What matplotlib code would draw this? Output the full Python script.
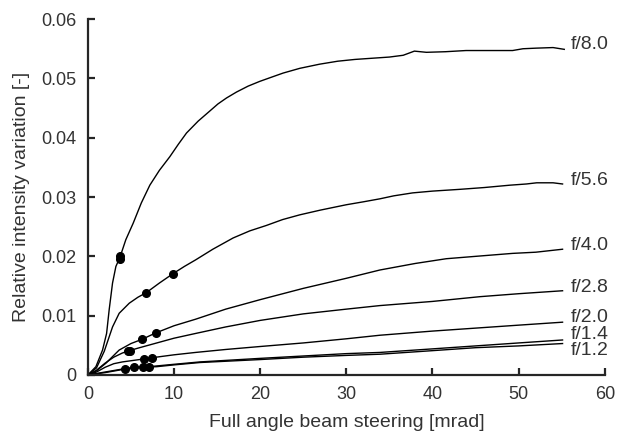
import matplotlib
matplotlib.use('Agg')
import matplotlib.pyplot as plt

plt.rcParams['font.family'] = ['Liberation Sans', 'DejaVu Sans']

# curve data (full angle beam steering [mrad], relative intensity variation)
f80_x = [0, 0.93, 1.7, 2.17, 2.47, 2.86, 3.25, 3.71, 4.4, 5.26, 6.2, 7.19, 8.3, 9.51, 10.5, 11.45,
         12.8, 14.15, 15.1, 16.09, 17.25, 18.6, 19.95, 21.3, 22.66, 24.6, 26.9, 29, 31, 33, 35, 36.6,
         37.9, 39.3, 41.5, 43.9, 46.5, 49.3, 50.5, 52, 54, 55.3]
f80_y = [0, 0.0014, 0.0042, 0.0070, 0.0110, 0.0155, 0.0183, 0.0198, 0.0228, 0.0256, 0.0290, 0.0320,
         0.0345, 0.0368, 0.0389, 0.0408, 0.0428, 0.0445, 0.0457, 0.0467, 0.0477, 0.0487, 0.0495, 0.0502,
         0.0509, 0.0517, 0.0524, 0.0529, 0.0532, 0.0534, 0.0536, 0.0539, 0.0546, 0.0544, 0.0545, 0.0547,
         0.0547, 0.0547, 0.0550, 0.0551, 0.0552, 0.0549]

f56_x = [0, 1, 1.9, 2.86, 3.63, 4.8, 5.8, 6.8, 8.3, 9.9, 11.2, 12.5, 14.5, 16.86, 18.8, 20.7, 22.6,
         24.6, 27, 30, 32, 33.9, 35.5, 37.7, 40, 43.2, 46, 49, 50.9, 52.1, 54, 55.1]
f56_y = [0, 0.0012, 0.0040, 0.0081, 0.0104, 0.0121, 0.0131, 0.0139, 0.0155, 0.0171, 0.0183, 0.0194,
         0.0212, 0.0231, 0.0243, 0.0252, 0.0262, 0.0270, 0.0278, 0.0287, 0.0292, 0.0297, 0.0302, 0.0307,
         0.0310, 0.0313, 0.0316, 0.0320, 0.0322, 0.0324, 0.0324, 0.0322]

f40_x = [0, 1, 2.1, 3, 3.63, 5, 6.26, 7.89, 10, 12.5, 16, 20, 25, 30, 33.9, 38, 41.6, 45, 49.3, 52, 55.1]
f40_y = [0, 0.0007, 0.0020, 0.0033, 0.0042, 0.0053, 0.0060, 0.0071, 0.0083, 0.0094, 0.0111, 0.0127,
         0.0146, 0.0163, 0.0177, 0.0188, 0.0196, 0.0200, 0.0205, 0.0207, 0.0212]

f28_x = [0, 1, 2, 3, 4, 4.8, 6, 8, 10, 12.5, 16, 20, 25, 30, 33.9, 40, 45.5, 50, 55.1]
f28_y = [0, 0.0008, 0.0020, 0.0030, 0.0037, 0.0041, 0.0046, 0.0054, 0.0062, 0.0070, 0.0081, 0.0092,
         0.0103, 0.0111, 0.0117, 0.0124, 0.0132, 0.0137, 0.0142]

f20_x = [0, 1, 2, 3, 4, 5, 6.5, 7.4, 10, 12.5, 16, 20, 25, 30, 33.9, 40, 45, 50, 55.1]
f20_y = [0, 0.0005, 0.0013, 0.0019, 0.0022, 0.0024, 0.0027, 0.0029, 0.0034, 0.0038, 0.0043, 0.0048,
         0.0054, 0.0061, 0.0067, 0.0074, 0.0079, 0.0084, 0.0089]

f14_x = [0, 2, 4, 5.37, 7.1, 10, 13, 20, 25, 30, 33.9, 40, 45, 50, 55.1]
f14_y = [0, 0.0005, 0.0010, 0.0013, 0.0014, 0.0018, 0.0022, 0.0028, 0.0032, 0.0036, 0.0038, 0.0044,
         0.0049, 0.0054, 0.0059]

f12_x = [0, 2, 4.33, 6.35, 8, 10, 13, 20, 25, 30, 33.9, 40, 45, 50, 55.1]
f12_y = [0, 0.0004, 0.0010, 0.0013, 0.0014, 0.0017, 0.0021, 0.0026, 0.0030, 0.0033, 0.0035, 0.0041,
         0.0046, 0.0049, 0.0053]

# marked points on each curve
dots_x = {'f/8.0': [3.68, 3.76], 'f/5.6': [6.8, 9.9], 'f/4.0': [6.26, 7.89], 'f/2.8': [4.7, 4.9],
          'f/2.0': [6.5, 7.4], 'f/1.4': [5.37, 7.1], 'f/1.2': [4.33, 6.35]}
dots_y = {'f/8.0': [0.0195, 0.0200], 'f/5.6': [0.0139, 0.0171], 'f/4.0': [0.0060, 0.0071],
          'f/2.8': [0.0040, 0.0041], 'f/2.0': [0.0027, 0.0029], 'f/1.4': [0.0013, 0.0014],
          'f/1.2': [0.0010, 0.0013]}

# label positions (y) at the right end
label_y = {'f/8.0': 0.0557, 'f/5.6': 0.0328, 'f/4.0': 0.0218, 'f/2.8': 0.0148,
           'f/2.0': 0.0097, 'f/1.4': 0.0069, 'f/1.2': 0.0041}

curves = [('f/8.0', f80_x, f80_y), ('f/5.6', f56_x, f56_y), ('f/4.0', f40_x, f40_y),
          ('f/2.8', f28_x, f28_y), ('f/2.0', f20_x, f20_y), ('f/1.4', f14_x, f14_y),
          ('f/1.2', f12_x, f12_y)]

text_col = '#333333'

fig = plt.figure(figsize=(6.19, 4.34), dpi=100)
ax = fig.add_axes([0.142, 0.136, 0.835, 0.820])

for name, xs, ys in curves:
    ax.plot(xs, ys, color='black', lw=1.0)
    ax.plot(dots_x[name], dots_y[name], 'o', color='black', ms=5.5)
    ax.text(56.0, label_y[name], name, fontsize=14, color=text_col, va='center', ha='left')

ax.set_xlim(0, 60)
ax.set_ylim(0, 0.06)
ax.set_xticks([0, 10, 20, 30, 40, 50, 60])
ax.set_yticks([0, 0.01, 0.02, 0.03, 0.04, 0.05, 0.06])
ax.set_yticklabels(['0', '0.01', '0.02', '0.03', '0.04', '0.05', '0.06'])

for s in ['top', 'right']:
    ax.spines[s].set_visible(False)
for s in ['left', 'bottom']:
    ax.spines[s].set_linewidth(1.6)
    ax.spines[s].set_color('#262626')
ax.tick_params(direction='in', length=5, width=1.6, color='#262626', labelsize=13,
               labelcolor=text_col, pad=8)

ax.set_xlabel('Full angle beam steering [mrad]', fontsize=14, color=text_col, labelpad=8)
ax.set_ylabel('Relative intensity variation [-]', fontsize=14, color=text_col, labelpad=8)

fig.savefig('out.png', dpi=100)
